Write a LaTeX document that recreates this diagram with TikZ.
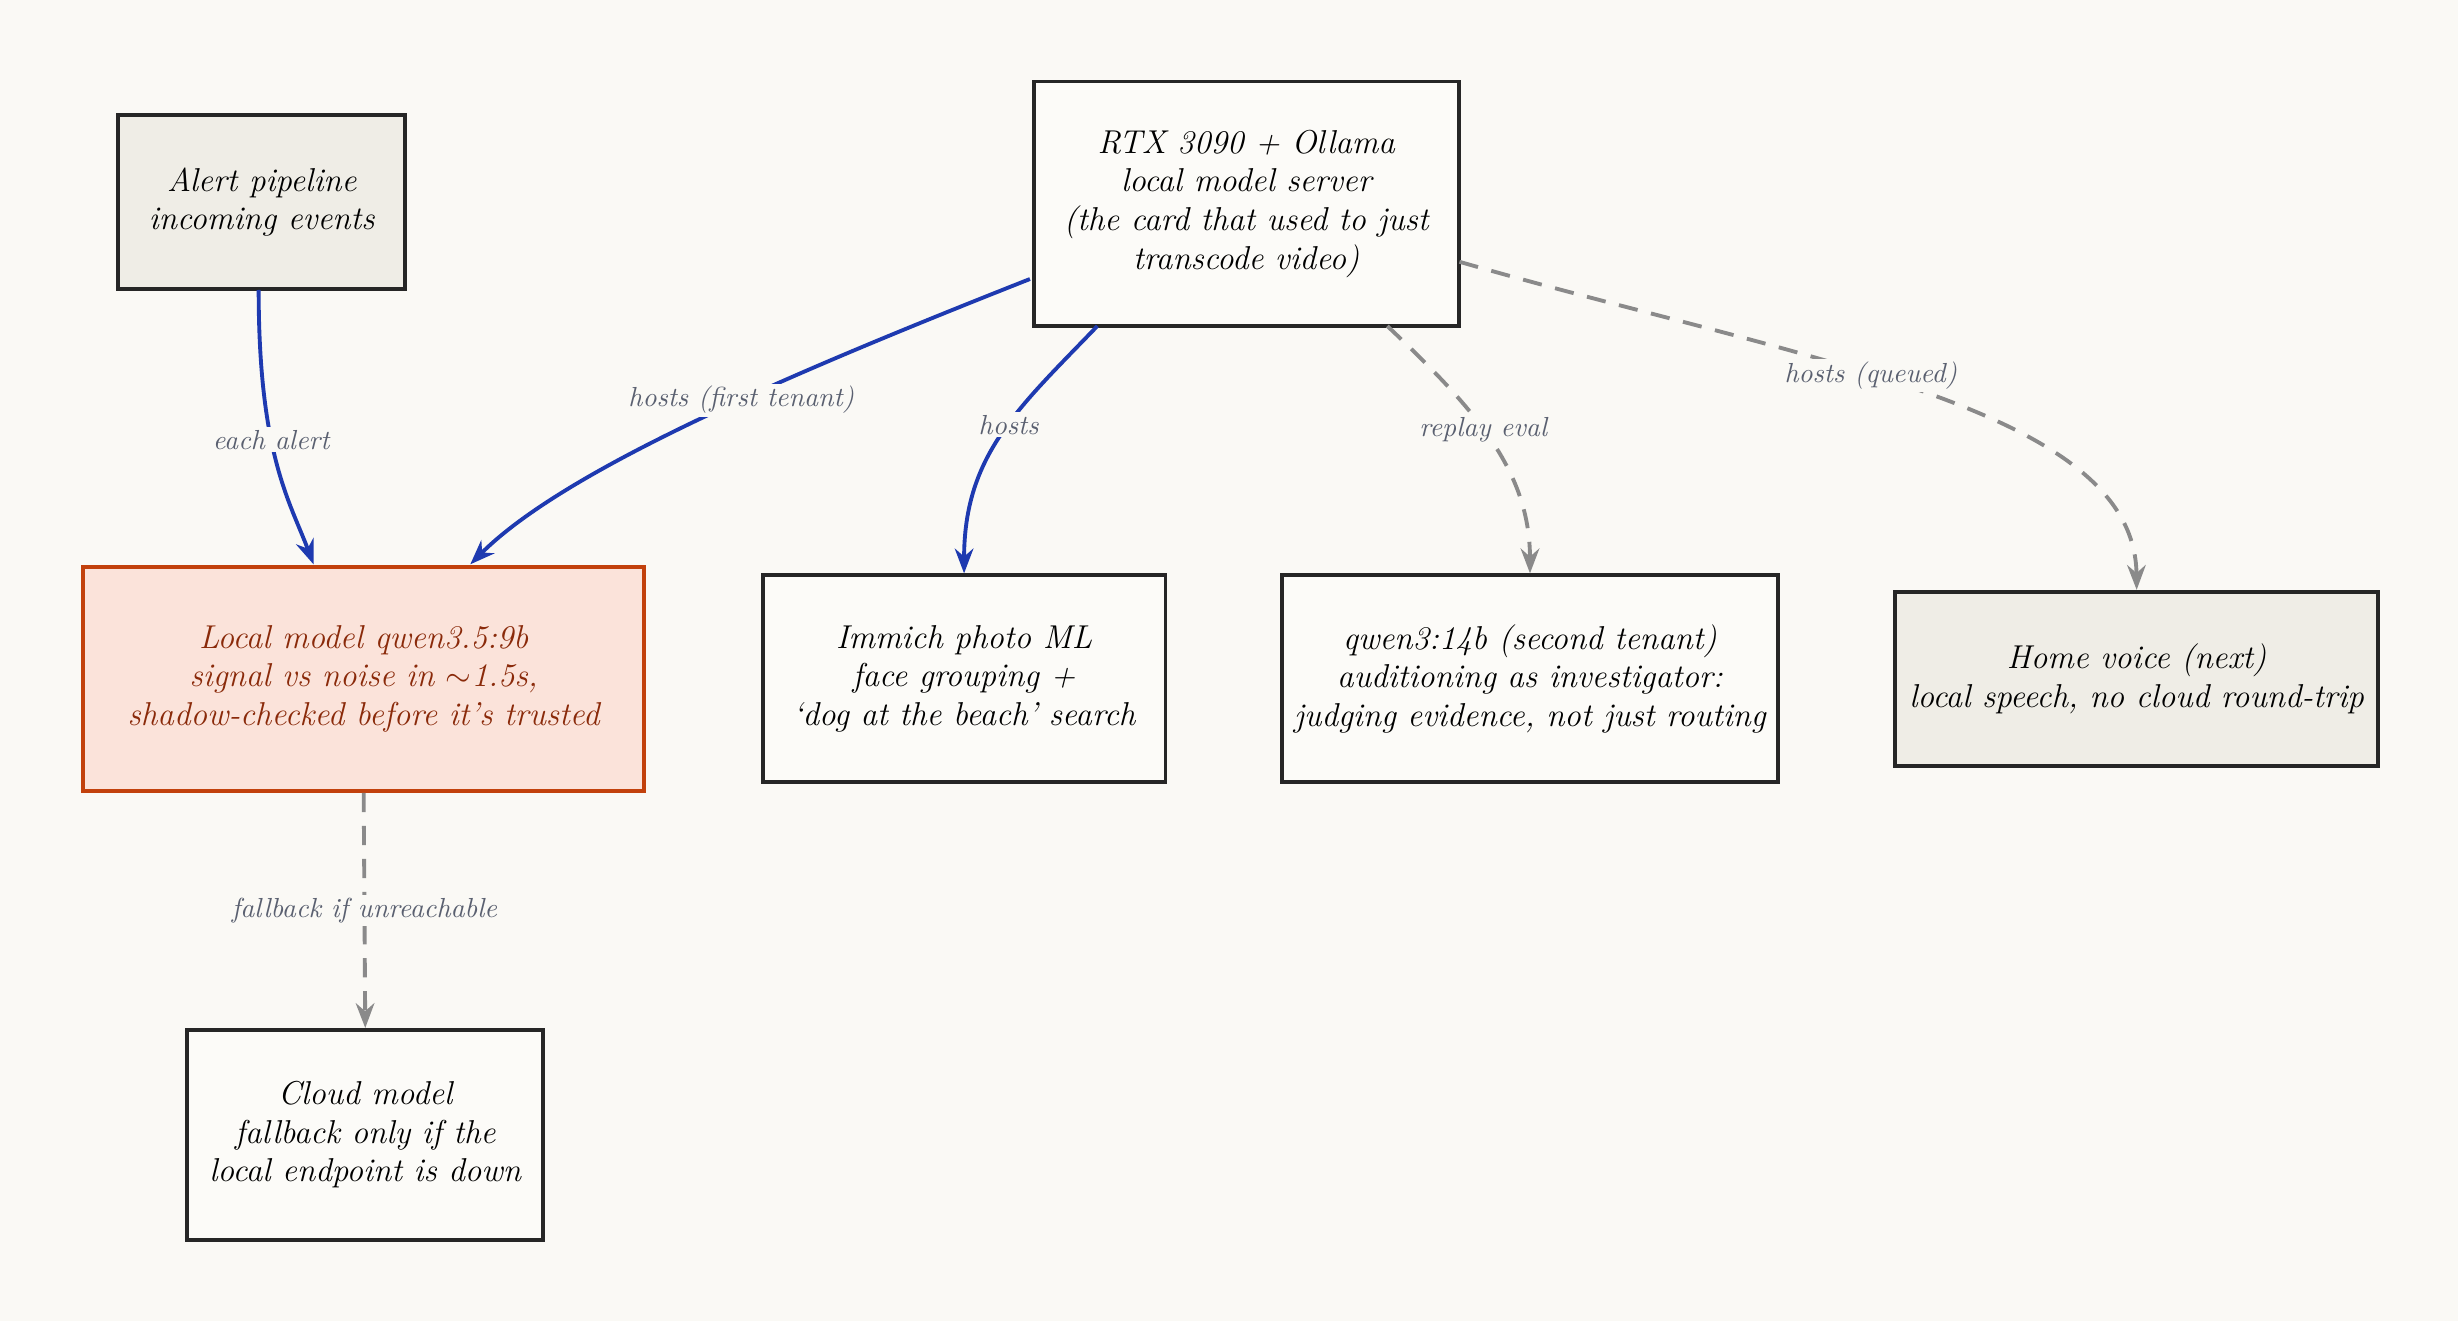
\documentclass[tikz,border=0pt]{standalone}
\usepackage{amsmath}
\usetikzlibrary{arrows.meta}
\definecolor{bgc}{HTML}{FAF9F5}
\definecolor{boxc}{HTML}{FCFBF8}
\definecolor{grayc}{HTML}{EFEDE6}
\definecolor{hotc}{HTML}{FBE3DA}
\definecolor{hotd}{HTML}{C2410C}
\definecolor{hott}{HTML}{8A2A0A}
\definecolor{bluec}{HTML}{1E3AB0}
\definecolor{dashc}{HTML}{8A8A8A}
\definecolor{labc}{HTML}{5A6070}

\begin{document}
\begin{tikzpicture}[x=0.2mm, y=-0.2mm, font=\itshape\large,
    block/.style={rectangle, draw=black!85, line width=1.4pt, fill=boxc, align=center},
    lbl/.style={font=\itshape\normalsize, text=labc, fill=bgc, inner sep=1pt},
    hard/.style={-{Stealth[length=9pt]}, bluec, line width=1.4pt},
    soft/.style={-{Stealth[length=9pt]}, dashc, line width=1.4pt, dash pattern=on 7pt off 5pt}]

    \fill[bgc] (0,0) rectangle (1568,843);
    \useasboundingbox (0,0) rectangle (1568,843);

    \node[block, fill=grayc, minimum width=36.6mm, minimum height=22.2mm] (alert) at (167,129) {Alert pipeline\\incoming events};
    \node[block, minimum width=54.2mm, minimum height=31.2mm] (rtx) at (795,130) {RTX 3090 + Ollama\\local model server\\(the card that used to just\\transcode video)};
    \node[block, fill=hotc, draw=hotd, text=hott, minimum width=71.6mm, minimum height=28.6mm] (local) at (232,433) {Local model qwen3.5:9b\\signal vs noise in $\sim$1.5s,\\shadow-checked before it's trusted};
    \node[block, minimum width=51.4mm, minimum height=26.4mm] (immich) at (615,433) {Immich photo ML\\face grouping +\\`dog at the beach' search};
    \node[block, minimum width=63.2mm, minimum height=26.4mm] (qwen) at (976,433) {qwen3:14b (second tenant)\\auditioning as investigator:\\judging evidence, not just routing};
    \node[block, fill=grayc, minimum width=61.6mm, minimum height=22.2mm] (voice) at (1363,433) {Home voice (next)\\local speech, no cloud round-trip};
    \node[block, minimum width=45.4mm, minimum height=26.8mm] (cloud) at (233,724) {Cloud model\\fallback only if the\\local endpoint is down};

    \coordinate (a1) at (165,185);
    \coordinate (r1) at (657,178);
    \coordinate (r2) at (700,208);
    \coordinate (r3) at (885,208);
    \coordinate (r4) at (931,167);

    \draw[hard] (a1) .. controls (165,290) and (185,320) .. node[lbl, pos=0.4] {each alert} (200,360);
    \draw[hard] (r1) .. controls (500,240) and (360,300) .. node[lbl, pos=0.42] {hosts (first tenant)} (300,360);
    \draw[hard] (r2) .. controls (650,260) and (615,290) .. node[lbl, pos=0.45] {hosts} (immich.north);
    \draw[soft] (r3) .. controls (940,260) and (976,300) .. node[lbl, pos=0.45] {replay eval} (qwen.north);
    \draw[soft] (r4) .. controls (1150,230) and (1362,260) .. node[lbl, pos=0.43] {hosts (queued)} (voice.north);
    \draw[soft] (local.south) -- node[lbl] {fallback if unreachable} (cloud.north);

\end{tikzpicture}
\end{document}
